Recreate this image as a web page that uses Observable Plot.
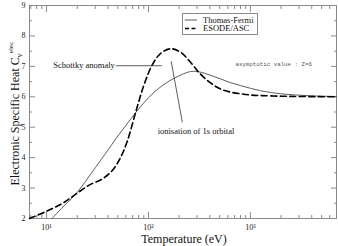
<!DOCTYPE html>
<html><head><meta charset="utf-8">
<script src="https://cdn.jsdelivr.net/npm/d3@7"></script>
<script src="https://cdn.jsdelivr.net/npm/@observablehq/plot@0.6"></script>
<style>
html,body{margin:0;padding:0;background:#fff;}
#wrap{position:relative;width:338px;height:246px;overflow:hidden;}
#legend{position:absolute;left:182px;top:13px;}
</style></head>
<body><div id="wrap"><div id="chart"></div><div id="legend"></div></div>
<script>
// Thomas-Fermi (solid)
const tempTF = [11.3, 14, 19.2, 24, 30.2, 38, 47.6, 60, 75, 100, 137, 186, 260, 324, 410, 508, 630, 796, 1000, 1255, 1600, 1960, 2500, 3090, 4000, 5000, 7000];
const cvTF   = [2.00, 2.33, 2.79, 3.21, 3.68, 4.14, 4.61, 5.06, 5.48, 5.97, 6.37, 6.64, 6.83, 6.81, 6.70, 6.59, 6.47, 6.37, 6.28, 6.20, 6.14, 6.10, 6.07, 6.05, 6.03, 6.02, 6.01];
// ESODE/ASC (dashed)
const tempASC = [6.8, 9.7, 14.2, 19.2, 25.9, 35.2, 44.2, 53.3, 62.1, 75, 90.6, 109, 132, 166, 209, 262, 316, 397, 499, 626, 796, 1000, 1255, 2000, 3000, 7000];
const cvASC   = [2.00, 2.22, 2.49, 2.79, 3.09, 3.30, 3.58, 4.01, 4.55, 5.50, 6.40, 7.05, 7.43, 7.58, 7.45, 7.11, 6.78, 6.48, 6.27, 6.16, 6.10, 6.06, 6.04, 6.02, 6.01, 6.00];
const seriesNames = ["Thomas-Fermi", "ESODE/ASC"];

const yMajor = [2, 3, 4, 5, 6, 7, 8, 9];
const yMinor = [2.5, 3.5, 4.5, 5.5, 6.5, 7.5, 8.5];
const xMajor = [10, 100, 1000];
const xMajorLabels = ["10¹", "10²", "10³"];
const xMinor = [7, 8, 9, 20, 30, 40, 50, 60, 70, 80, 90, 200, 300, 400, 500, 600, 700, 800, 900, 2000, 3000, 4000, 5000, 6000, 7000];

const xTitle = "Temperature (eV)";
const yTitle = ["Electronic Specific Heat C", "v", "elec"];

// annotations
const annText = ["Schottky anomaly", "ionisation of 1s orbital", "asymptotic value : Z=6"];
const annTextT = [47.8, 123, 713];
const annTextCv = [7.02, 4.87, 7.06];
const annLineT1 = [47.8, 167];
const annLineT2 = [135, 215];
const annLineCv1 = [7.02, 7.17];
const annLineCv2 = [7.02, 5.16];

const tf = tempTF.map((t, i) => ({t, cv: cvTF[i]}));
const asc = tempASC.map((t, i) => ({t, cv: cvASC[i]}));
const links = annLineT1.map((t, i) => ({t1: t, t2: annLineT2[i], v1: annLineCv1[i], v2: annLineCv2[i]}));
const texts = annText.map((s, i) => ({s, t: annTextT[i], v: annTextCv[i]}));
const fmtX = d => xMajorLabels[xMajor.indexOf(d)];

const axisCol = "#8a8a8a";
const plot = Plot.plot({
  width: 338, height: 246,
  marginLeft: 29, marginRight: 2, marginTop: 5, marginBottom: 28,
  x: {type: "log", domain: [6.8, 7000]},
  y: {domain: [2, 9]},
  style: {fontFamily: "Liberation Serif", fontSize: "8px", color: "#000", background: "white"},
  marks: [
    Plot.frame({stroke: axisCol}),
    // labels
    Plot.axisY(yMajor, {anchor: "left", tickSize: 0, tickPadding: 4, label: null, tickFormat: d => String(d), fill: "#222"}),
    Plot.axisX(xMajor, {anchor: "bottom", tickSize: 0, tickPadding: 6, label: null, tickFormat: fmtX, fill: "#222"}),
    // inward ticks
    Plot.axisY(yMajor, {anchor: "left", tickSize: -6, fill: "none", stroke: axisCol, label: null}),
    Plot.axisY(yMinor, {anchor: "left", tickSize: -3, fill: "none", stroke: axisCol, label: null}),
    Plot.axisY(yMajor, {anchor: "right", tickSize: -6, fill: "none", stroke: axisCol, label: null}),
    Plot.axisY(yMinor, {anchor: "right", tickSize: -3, fill: "none", stroke: axisCol, label: null}),
    Plot.axisX(xMajor, {anchor: "bottom", tickSize: -6, fill: "none", stroke: axisCol, label: null}),
    Plot.axisX(xMinor, {anchor: "bottom", tickSize: -3, fill: "none", stroke: axisCol, label: null}),
    Plot.axisX(xMajor, {anchor: "top", tickSize: -6, fill: "none", stroke: axisCol, label: null}),
    Plot.axisX(xMinor, {anchor: "top", tickSize: -3, fill: "none", stroke: axisCol, label: null}),
    // curves
    Plot.line(tf, {x: "t", y: "cv", curve: "catmull-rom", stroke: "#333", strokeWidth: 0.8}),
    Plot.line(asc, {x: "t", y: "cv", curve: "catmull-rom", stroke: "#000", strokeWidth: 1.6, strokeDasharray: "6,3.5"}),
    // annotations
    Plot.link(links, {x1: "t1", x2: "t2", y1: "v1", y2: "v2", stroke: "#333", strokeWidth: 0.8}),
    Plot.text(texts.slice(0, 1), {x: "t", y: "v", text: "s", textAnchor: "end", dx: -1, fontSize: 8.5, fill: "#111"}),
    Plot.text(texts.slice(1, 2), {x: "t", y: "v", text: "s", textAnchor: "start", fontSize: 8.5, fill: "#111"}),
    Plot.text(texts.slice(2, 3), {x: "t", y: "v", text: "s", textAnchor: "start", fontSize: 5.8, fontFamily: "Liberation Mono", fill: "#555"}),
    // axis titles
    Plot.text([xTitle], {frameAnchor: "bottom", lineAnchor: "bottom", dy: 24, dx: 1, fontSize: 12, fill: "#111"}),
    Plot.text([yTitle[0]], {frameAnchor: "left", rotate: -90, textAnchor: "start", lineAnchor: "bottom", dx: -11, dy: 73.5, fontSize: 12, fill: "#111"}),
    Plot.text([yTitle[1]], {frameAnchor: "left", rotate: -90, textAnchor: "start", lineAnchor: "bottom", dx: -8, dy: -54.5, fontSize: 8, fill: "#111"}),
    Plot.text([yTitle[2]], {frameAnchor: "left", rotate: -90, textAnchor: "start", lineAnchor: "bottom", dx: -17, dy: -59, fontSize: 7, fill: "#111"})
  ]
});
document.getElementById("chart").append(plot);

// legend
const lg = d3.select("#legend").append("svg").attr("width", 76).attr("height", 22)
  .style("font-family", "Liberation Serif").style("font-size", "8.5px");
lg.append("rect").attr("x", 0.5).attr("y", 0.5).attr("width", 75).attr("height", 21).attr("fill", "#fff").attr("stroke", axisCol);
const rowsY = [7, 15.5];
const dashes = [null, "4,2.5"];
const widths = [0.8, 1.4];
seriesNames.forEach((n, i) => {
  lg.append("line").attr("x1", 3).attr("x2", 15).attr("y1", rowsY[i]).attr("y2", rowsY[i])
    .attr("stroke", i ? "#000" : "#333").attr("stroke-width", widths[i]).attr("stroke-dasharray", dashes[i]);
  lg.append("text").attr("x", 21).attr("y", rowsY[i]).attr("dy", "0.32em").attr("fill", "#111").text(n);
});
</script>
</body></html>
